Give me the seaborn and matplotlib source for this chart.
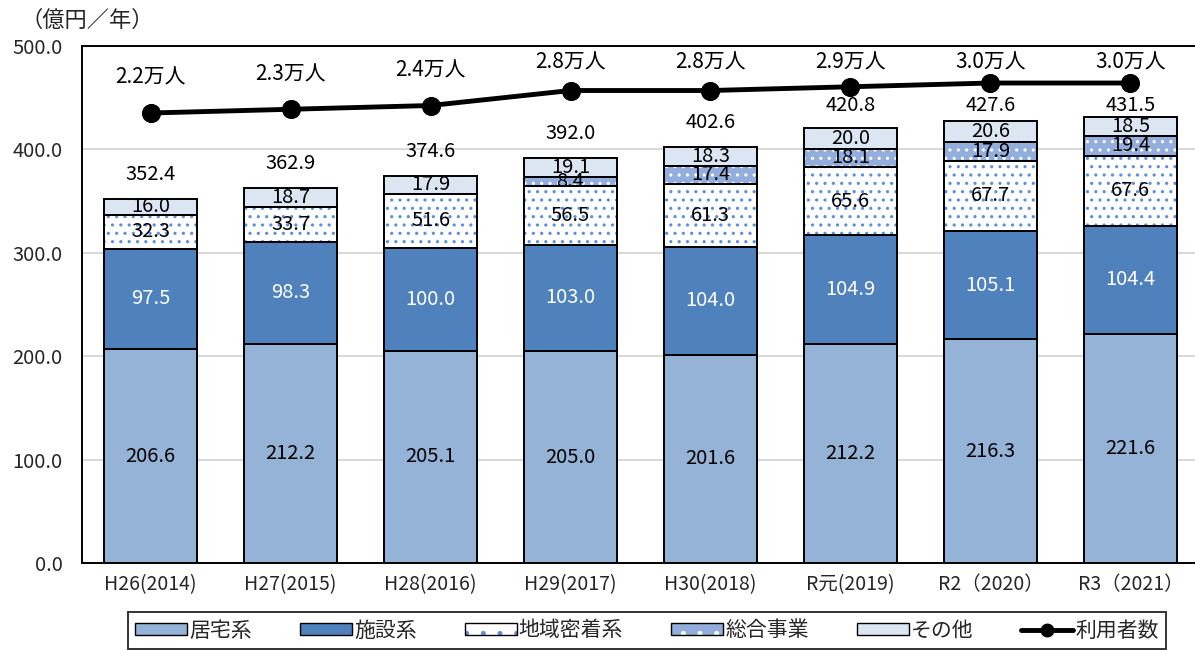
import numpy as np
import pandas as pd
import matplotlib
matplotlib.use("Agg")
import matplotlib.pyplot as plt
import seaborn as sns
from matplotlib.patches import Patch
from matplotlib.lines import Line2D
from matplotlib.legend_handler import HandlerTuple

sns.set_theme(style="white")
plt.rcParams['font.family'] = ['Noto Sans CJK JP', 'DejaVu Sans']
plt.rcParams['hatch.linewidth'] = 1.1

# ---- data ----
categories = ["H26(2014)", "H27(2015)", "H28(2016)", "H29(2017)",
              "H30(2018)", "R元(2019)", "R2（2020）", "R3（2021）"]
kyotaku = [206.6, 212.2, 205.1, 205.0, 201.6, 212.2, 216.3, 221.6]
shisetsu = [97.5, 98.3, 100.0, 103.0, 104.0, 104.9, 105.1, 104.4]
chiiki = [32.3, 33.7, 51.6, 56.5, 61.3, 65.6, 67.7, 67.6]
sogo = [0.0, 0.0, 0.0, 8.4, 17.4, 18.1, 17.9, 19.4]
sonota = [16.0, 18.7, 17.9, 19.1, 18.3, 20.0, 20.6, 18.5]
totals = [352.4, 362.9, 374.6, 392.0, 402.6, 420.8, 427.6, 431.5]
users = [2.2, 2.3, 2.4, 2.8, 2.8, 2.9, 3.0, 3.0]
user_labels = ["2.2万人", "2.3万人", "2.4万人", "2.8万人", "2.8万人", "2.9万人", "3.0万人", "3.0万人"]

series_names = ["居宅系", "施設系", "地域密着系", "総合事業", "その他"]
series_vals = [kyotaku, shisetsu, chiiki, sogo, sonota]
face_colors = ["#95B3D7", "#4F81BD", "#FFFFFF", "#93AEDC", "#DCE6F2"]
hatch_colors = [None, None, "#5B8FDC", "#FFFFFF", None]
hatches = [None, None, "..", "..", None]
text_colors = ["black", "white", "black", "black", "black"]

fig = plt.figure(figsize=(11.95, 6.5), dpi=100)
ax = fig.add_axes([82 / 1195, 1 - 563 / 650, (1199 - 82) / 1195, (563 - 46) / 650])

bar_w = 0.665
x = np.arange(len(categories))
bottom = np.zeros(len(categories))
label_fs = 14.5

for name, vals, fc, hc, h, tc in zip(series_names, series_vals, face_colors,
                                     hatch_colors, hatches, text_colors):
    vals = np.array(vals, dtype=float)
    df = pd.DataFrame({"cat": categories, "val": vals})
    n_before = len(ax.patches)
    if h is None:
        sns.barplot(data=df, x="cat", y="val", color=fc, saturation=1, width=bar_w,
                    edgecolor="black", linewidth=1.4, ax=ax, errorbar=None)
        new = ax.patches[n_before:]
    else:
        sns.barplot(data=df, x="cat", y="val", color=fc, saturation=1, width=bar_w,
                    edgecolor=hc, linewidth=0, hatch=h, ax=ax, errorbar=None)
        new = list(ax.patches[n_before:])
        n2 = len(ax.patches)
        sns.barplot(data=df, x="cat", y="val", fill=False, width=bar_w,
                    edgecolor="black", linewidth=1.4, ax=ax, errorbar=None)
        new2 = ax.patches[n2:]
        for p, b in zip(new2, bottom):
            p.set_y(b)
            p.set_zorder(3)
            p.set_facecolor("none")
            p.set_edgecolor("black")
    for p, b in zip(new, bottom):
        p.set_y(b)
    for i, (v, b) in enumerate(zip(vals, bottom)):
        if v > 0:
            ax.text(i, b + v / 2, f"{v:.1f}", ha="center", va="center",
                    fontsize=label_fs, color=tc, zorder=5)
    bottom = bottom + vals

for i, t in enumerate(totals):
    ax.text(i, min(t + 23.2, 442), f"{t:.1f}", ha="center", va="center",
            fontsize=label_fs, color="black")

ax.set_xlim(-0.49, 7.49)
ax.set_ylim(0, 500)
ax.set_yticks(np.arange(0, 501, 100))
ax.set_yticklabels([f"{v:.1f}" for v in np.arange(0, 501, 100)], fontsize=14.5)
ax.set_xticks(x)
ax.set_xticklabels(categories, fontsize=14)
ax.set_xlabel("")
ax.set_ylabel("")
ax.tick_params(axis="y", length=0, pad=14)
ax.tick_params(axis="x", length=0, pad=8)
ax.yaxis.grid(True, color="#D9D9D9", linewidth=1.5)
ax.set_axisbelow(True)
for s in ["left", "top", "bottom"]:
    ax.spines[s].set_color("black")
    ax.spines[s].set_linewidth(1.4)
ax.spines["right"].set_visible(False)

# line on secondary axis
ax2 = ax.twinx()
ax2.set_ylim(-9.8, 3.987)
sns.lineplot(x=x, y=users, ax=ax2, color="black", linewidth=3.5, marker="o",
             markersize=13, markeredgecolor="black", zorder=6)
ax2.set_yticks([])
for s in ax2.spines.values():
    s.set_visible(False)
ax2.set_xlim(-0.49, 7.49)
for i, (u, lab) in enumerate(zip(users, user_labels)):
    disp = ax2.transData.transform((i, u))
    yax = ax2.transAxes.inverted().transform(disp)[1]
    ylab = min(yax + 35 / 517, 0.968)
    ax2.text(i, ylab, lab, transform=ax2.get_xaxis_transform(), ha="center", va="center",
             fontsize=15, color="black")

fig.text(20 / 1195, 1 - 20 / 650, "（億円／年）", fontsize=16, ha="left", va="center")

handles = []
for name, fc, hc, h in zip(series_names, face_colors, hatch_colors, hatches):
    if h is None:
        handles.append(Patch(facecolor=fc, edgecolor="black", linewidth=1.0))
    else:
        handles.append((Patch(facecolor=fc, edgecolor=hc, linewidth=0, hatch="."),
                        Patch(facecolor="none", edgecolor="black", linewidth=1.0)))
handles.append(Line2D([0], [0], color="black", lw=3.5, marker="o", markersize=9))
labels = series_names + ["利用者数"]
leg = fig.legend(handles=handles, labels=labels, loc="center",
                 bbox_to_anchor=(647 / 1195, 1 - 630.5 / 650),
                 handler_map={tuple: HandlerTuple(ndivide=1, pad=0)},
                 ncol=6, fontsize=15, frameon=True, fancybox=False, edgecolor="black",
                 handlelength=2.5, handleheight=0.5, columnspacing=2.3, handletextpad=0.1,
                 borderpad=0.35, borderaxespad=0)
leg.get_frame().set_linewidth(1.4)

fig.savefig("out.png", dpi=100)
